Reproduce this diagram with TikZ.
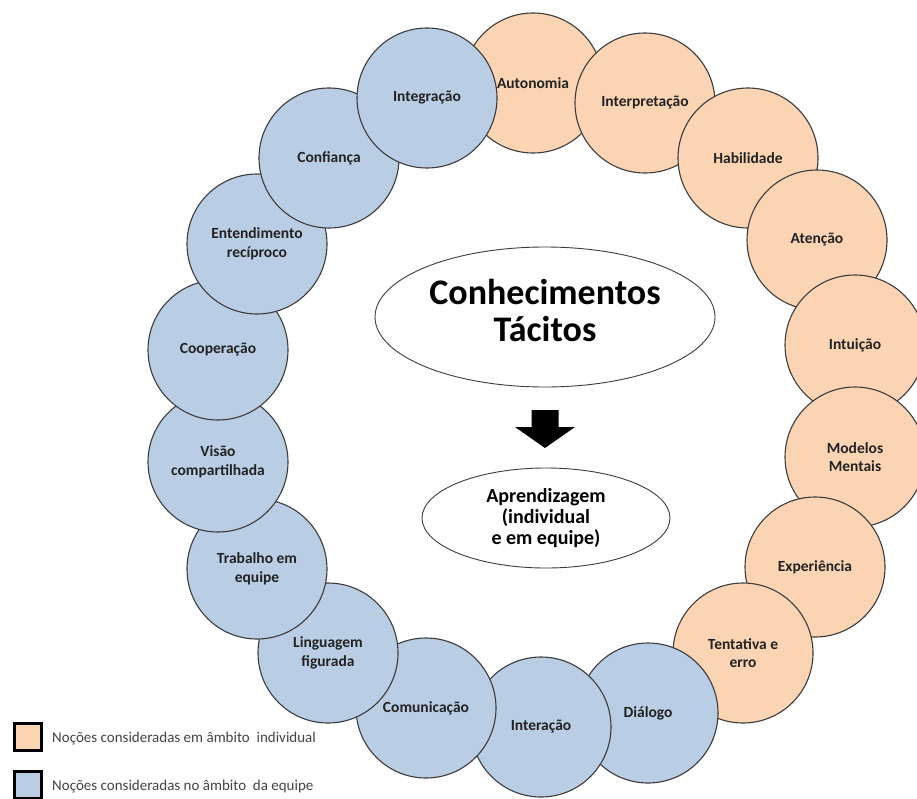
\documentclass[tikz,border=0pt]{standalone}
\usepackage{fontspec}
\setmainfont{Carlito}
\usetikzlibrary{shapes.geometric}
\definecolor{peach}{HTML}{FBD4B4}
\definecolor{teamblue}{HTML}{B9CDE5}
\definecolor{ringline}{HTML}{3C3C3C}
\definecolor{textdark}{HTML}{232323}
\begin{document}
\begin{tikzpicture}[x=1pt,y=-1pt,
  notion/.style={circle, draw=ringline, line width=1.1pt, minimum size=140pt,
    inner sep=0pt, align=center, text=textdark,
    font=\bfseries\fontsize{15.5}{18.5}\selectfont},
  indiv/.style={notion, fill=peach},
  team/.style={notion, fill=teamblue},
  oval/.style={ellipse, draw=ringline, line width=0.9pt, fill=white, inner sep=0pt},
  keybox/.style={rectangle, draw=black, line width=2.6pt, minimum size=27pt, inner sep=0pt},
  keytext/.style={anchor=west, inner sep=0pt, text=textdark!85,
    font=\fontsize{15}{17}\selectfont}]
\useasboundingbox (0,0) rectangle (917,798);
\clip (0,0) rectangle (917,798);
\fill[white] (0,0) rectangle (917,798);

% ring of notions, drawn clockwise so each one overlaps the previous
\node[indiv] (autonomia)    at (533,83)  {Autonomia};
\node[indiv] (interpretacao) at (645,103) {Interpretação};
\node[indiv] (habilidade)   at (748,158) {Habilidade};
\node[indiv] (atencao)      at (817,240) {Atenção};
\node[indiv] (intuicao)     at (855,345) {Intuição};
\node[indiv] (modelos)      at (855,457) {Modelos\\Mentais};
\node[indiv] (experiencia)  at (815,567) {Experiência};
\node[indiv] (tentativa)    at (743,653) {Tentativa e\\erro};
\node[team]  (dialogo)      at (648,713) {Diálogo};
\node[team]  (interacao)    at (541,727) {Interação};
\node[team]  (comunicacao)  at (426,708) {Comunicação};
\node[team]  (linguagem)    at (328,653) {Linguagem\\figurada};
\node[team]  (trabalho)     at (257,569) {Trabalho em\\equipe};
\node[team]  (visao)        at (218,462) {Visão\\compartilhada};
\node[team]  (cooperacao)   at (218,350) {Cooperação};
\node[team]  (entendimento) at (257,244) {Entendimento\\recíproco};
\node[team]  (confianca)    at (329,158) {Confiança};
\node[team]  (integracao)   at (427,98)  {Integração};

% centre: tacit knowledge leading to learning
\node[oval, minimum width=340pt, minimum height=140pt] (tacito) at (545,317) {};
\node[align=center, inner sep=0pt, text=black,
      font=\bfseries\fontsize{36}{37}\selectfont] (tacitotexto) at (545,310)
      {Conhecimentos\\Tácitos};

\fill[black] (531.5,410) -- (558.5,410) -- (558.5,427) -- (575,427)
  -- (545,448) -- (515,427) -- (531.5,427) -- cycle;

\node[oval, minimum width=248pt, minimum height=100pt, align=center, text=black,
      font=\bfseries\fontsize{20}{21}\selectfont] (aprendizagem) at (546,518)
      {Aprendizagem\\(individual\\e em equipe)};

% legend
\node[keybox, fill=peach]    (keyindiv) at (28,737) {};
\node[keytext] (keyindivtxt) at (52,739) {Noções consideradas em âmbito \ individual};
\node[keybox, fill=teamblue] (keyteam)  at (28,785) {};
\node[keytext] (keyteamtxt)  at (52,787) {Noções consideradas no âmbito \ da equipe};
\end{tikzpicture}
\end{document}
